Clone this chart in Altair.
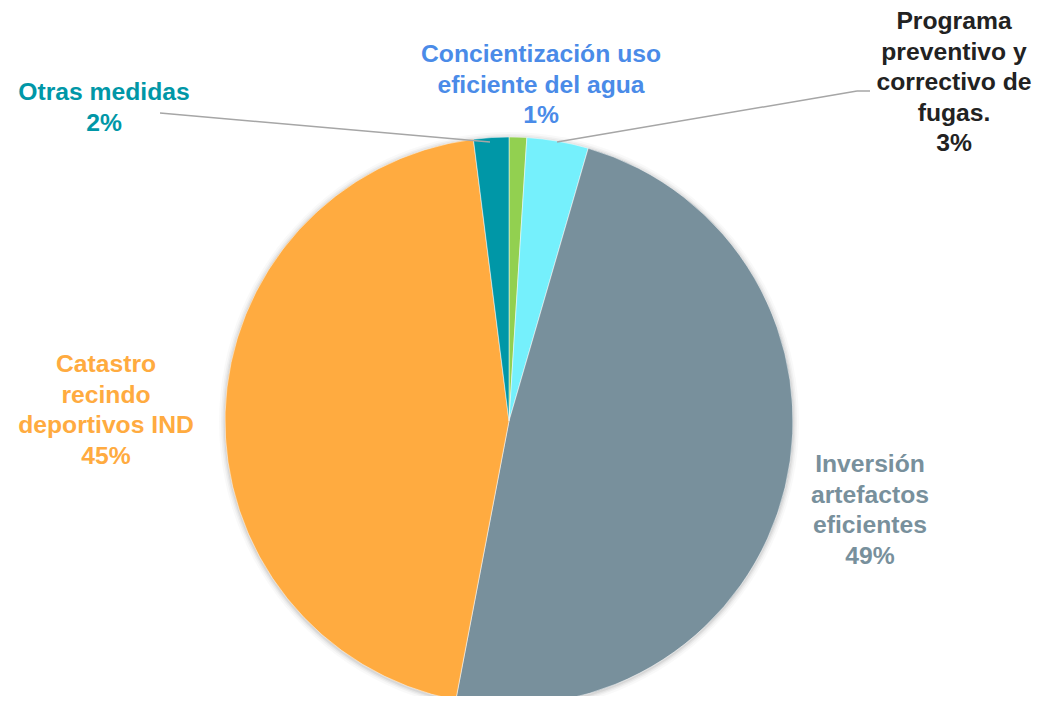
import altair as alt
import pandas as pd

# ---- data ----
categories = ["Concientización uso eficiente del agua", "Programa preventivo y correctivo de fugas.",
              "Inversión artefactos eficientes", "Catastro recindo deportivos IND", "Otras medidas"]
values = [1.0, 3.5, 48.5, 45.0, 2.0]
pct_labels = ["1%", "3%", "49%", "45%", "2%"]
label_lines = [["Concientización uso", "eficiente del agua"],
               ["Programa", "preventivo y", "correctivo de", "fugas."],
               ["Inversión", "artefactos", "eficientes"],
               ["Catastro", "recindo", "deportivos IND"],
               ["Otras medidas"]]
slice_colors = ["#92d050", "#75f0fc", "#78909c", "#ffab40", "#0097a7"]
label_colors = ["#4a8be8", "#222222", "#78909c", "#ffab40", "#0097a7"]

# ---- layout (chart pixel coords) ----
W, H = 1029, 688
CX, CY, R = 501, 413, 284
label_anchor = [(533, 47), (946, 14), (862, 457), (98, 357), (96, 85)]
LINE_H = 30.5
leaders = [  # (x, y, x2, y2)
    (152, 105, 482, 134),
    (549, 134, 849, 83),
    (849, 83, 862, 83),
]
shadow_steps = [(R + 6, 0.025), (R + 4, 0.035), (R + 2.5, 0.045), (R + 1.2, 0.06)]

pie_df = pd.DataFrame({"cat": categories, "value": values, "order": list(range(len(categories)))})

rows = []
for i, cat in enumerate(categories):
    lines = label_lines[i] + [pct_labels[i]]
    x0, y0 = label_anchor[i]
    for j, t in enumerate(lines):
        rows.append({"cat": cat, "text": t, "px": x0, "py": y0 + j * LINE_H, "color": label_colors[i]})
lab_df = pd.DataFrame(rows)
lead_df = pd.DataFrame(leaders, columns=["x", "y", "x2", "y2"])

color_scale = alt.Scale(domain=categories, range=slice_colors)

shadow_layers = [
    alt.Chart(pie_df.head(1)).mark_arc(radius=r, opacity=o, color="#000000").encode(
        x=alt.value(CX), y=alt.value(CY + 1), theta=alt.value(6.2832)
    )
    for r, o in shadow_steps
]

pie = alt.Chart(pie_df).mark_arc(radius=R, stroke="#ffffff", strokeWidth=0.5).encode(
    x=alt.value(CX), y=alt.value(CY),
    theta=alt.Theta("value:Q", stack=True),
    order=alt.Order("order:Q"),
    color=alt.Color("cat:N", scale=color_scale, legend=None),
)

lines = alt.Chart(lead_df).mark_rule(color="#a6a6a6", strokeWidth=1.5).encode(
    x=alt.X("x:Q", scale=None), y=alt.Y("y:Q", scale=None),
    x2="x2:Q", y2="y2:Q",
)

labels = alt.Chart(lab_df).mark_text(
    font="Liberation Sans", fontWeight="bold", fontSize=24.7, align="center", baseline="middle"
).encode(
    x=alt.X("px:Q", scale=None), y=alt.Y("py:Q", scale=None),
    text="text:N",
    color=alt.Color("color:N", scale=None),
)

chart = alt.layer(*shadow_layers, pie, lines, labels).properties(
    width=W, height=H, padding=0, autosize=alt.AutoSizeParams(type="none"),
).configure_view(stroke=None)

chart.save("out.html", embed_options={"renderer": "svg", "actions": False})
